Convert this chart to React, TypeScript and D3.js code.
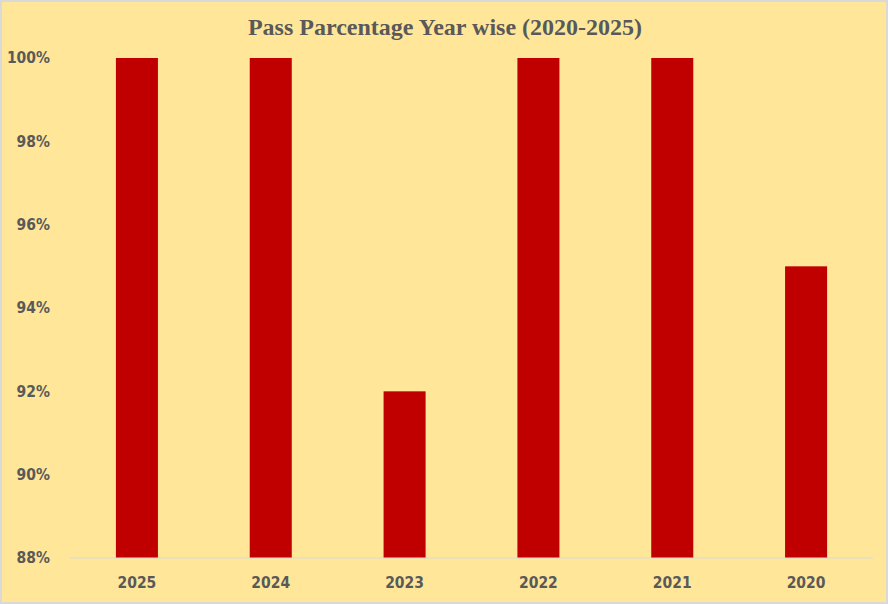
import React from "react";
import * as d3 from "d3";

const years = ["2025", "2024", "2023", "2022", "2021", "2020"];
const passPercent = [100, 100, 92, 100, 100, 95];
const yTicks = [88, 90, 92, 94, 96, 98, 100];

const width = 888;
const height = 604;
const margin = { top: 58, right: 15, bottom: 46, left: 70 };

export default function App() {
  const x = d3
    .scaleBand<string>()
    .domain(years)
    .range([margin.left, width - margin.right])
    .paddingInner(0.686)
    .paddingOuter(0.343);

  const y = d3
    .scaleLinear()
    .domain([88, 100])
    .range([height - margin.bottom, margin.top]);

  const labelFont = "'DejaVu Sans Condensed', 'DejaVu Sans', sans-serif";

  return (
    <div style={{ position: "absolute", left: 0, top: 0 }}>
      <svg width={width} height={height}>
        <rect
          x={1}
          y={1}
          width={width - 2}
          height={height - 2}
          fill="#FFE699"
          stroke="#D9D9D9"
          strokeWidth={2}
        />
        <text
          x={width / 2 + 1}
          y={27}
          textAnchor="middle"
          dy="0.35em"
          fontFamily="'Liberation Serif', serif"
          fontWeight="bold"
          fontSize={24}
          fill="#595959"
        >
          Pass Parcentage Year wise (2020-2025)
        </text>

        {/* bars */}
        <g>
          {years.map((yr, i) => (
            <rect
              key={yr}
              x={x(yr)}
              y={y(passPercent[i])}
              width={x.bandwidth()}
              height={y(88) - y(passPercent[i])}
              fill="#C00000"
            />
          ))}
        </g>

        {/* baseline */}
        <line
          x1={margin.left}
          x2={width - margin.right}
          y1={y(88)}
          y2={y(88)}
          stroke="#D9D9D9"
          strokeWidth={1}
        />

        {/* y tick labels */}
        <g
          fontFamily={labelFont}
          fontWeight="bold"
          fontSize={15.5}
          fill="#595959"
          textAnchor="end"
        >
          {yTicks.map((t) => (
            <text key={t} x={50} y={y(t)} dy="0.35em">
              {t}%
            </text>
          ))}
        </g>

        {/* x tick labels */}
        <g
          fontFamily={labelFont}
          fontWeight="bold"
          fontSize={15.5}
          fill="#595959"
          textAnchor="middle"
        >
          {years.map((yr) => (
            <text
              key={yr}
              x={(x(yr) ?? 0) + x.bandwidth() / 2}
              y={583}
              dy="0.35em"
            >
              {yr}
            </text>
          ))}
        </g>
      </svg>
    </div>
  );
}
